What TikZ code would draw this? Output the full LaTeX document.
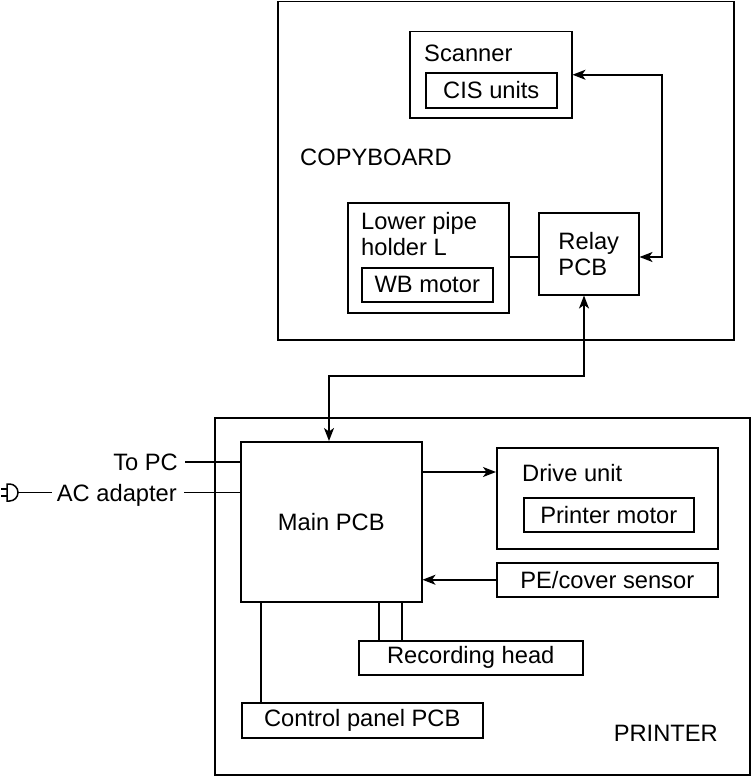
\documentclass[tikz,border=0pt]{standalone}
\usepackage{fontspec}
\setmainfont{Liberation Sans}
\usetikzlibrary{arrows.meta}
\begin{document}
\begin{tikzpicture}[x=1pt,y=-1pt,
  box/.style={draw, line width=1.5pt, inner sep=0pt, anchor=north west,
              font=\fontsize{23.7}{26}\selectfont},
  txt/.style={inner sep=0pt, font=\fontsize{23.7}{26}\selectfont},
  conn/.style={line width=1.5pt},
  tip/.tip={Stealth[length=13pt,width=10pt,inset=3.5pt]},
  arr/.style={line width=1.5pt, -tip},
  darr/.style={line width=1.5pt, tip-tip},
]
\useasboundingbox (0,0) rectangle (751,776);

% COPYBOARD
\node[box, minimum width=456pt, minimum height=338pt] (copy) at (277,1) {};
\node[box, minimum width=162pt, minimum height=86pt] (scan) at (409,31) {};
\node[box, minimum width=131pt, minimum height=35pt] (cis) at (425,72) {CIS units};
\node[txt, anchor=west] (scanl) at (424,53) {Scanner};
\node[txt, anchor=west] (copyl) at (300,157) {COPYBOARD};
\node[box, minimum width=161pt, minimum height=110pt] (lower) at (347,202) {};
\node[txt, anchor=west, align=left] (lowerl) at (361,234) {Lower pipe\\holder L};
\node[box, minimum width=131pt, minimum height=34pt] (wb) at (361,267) {WB motor};
\node[box, minimum width=100pt, minimum height=82pt, align=left] (relay) at (538,212) {Relay\\PCB};

% PRINTER
\node[box, minimum width=535pt, minimum height=357pt] (printer) at (214,417) {};
\node[box, minimum width=181pt, minimum height=160pt] (main) at (240,441) {Main PCB};
\node[box, minimum width=221pt, minimum height=101pt] (drive) at (496,447) {};
\node[txt, anchor=west] (drivel) at (522,473) {Drive unit};
\node[box, minimum width=170pt, minimum height=34pt] (pmot) at (523,497) {Printer motor};
\node[box, minimum width=221pt, minimum height=34pt] (pe) at (496,562) {PE/cover sensor};
\node[box, minimum width=224pt, minimum height=34pt] (rec) at (358,640) {Recording head};
\node[box, minimum width=241pt, minimum height=35pt] (ctrl) at (241,702) {Control panel PCB};
\node[txt, anchor=base east] (printerl) at (718,741) {PRINTER};

% external
\node[txt, anchor=base east] (topc) at (178,470) {To PC};
\node[txt, anchor=base east] (ac) at (177,501) {AC adapter};

% coordinates
\coordinate (lp) at (662,257);
\coordinate (rm1) at (584,376);
\coordinate (rm2) at (329,376);
\coordinate (dr) at (0,472);
\coordinate (r1) at (379,0);
\coordinate (r2) at (402,0);
\coordinate (c1) at (261,0);
\coordinate (pcy) at (0,462);
\coordinate (acy) at (0,492.5);
\coordinate (plug) at (18,492.5);

% connectors
\draw[darr] (scan.east) -| (lp) -- (relay.east |- lp);
\draw[conn] (lower.east |- lp) -- (relay.west |- lp);
\draw[darr] (rm1 |- relay.south) -- (rm1) -- (rm2) -- (rm2 |- main.north);
\draw[arr] (main.east |- dr) -- (drive.west |- dr);
\draw[arr] (pe.west) -- (pe.west -| main.east);
\draw[conn] (main.south -| r1) -- (rec.north -| r1);
\draw[conn] (main.south -| r2) -- (rec.north -| r2);
\draw[conn] (main.south -| c1) -- (ctrl.north -| c1);
\draw[conn] (topc.east |- pcy) ++(7,0) -- (main.west |- pcy);
\draw[conn] (ac.east |- acy) ++(7,0) -- (main.west |- acy);
\draw[conn] (plug) -- ([xshift=-5pt]ac.west |- acy);

% plug symbol
\draw[conn] (7,484) -- (9.5,484) arc[start angle=-90, end angle=90, radius=8.5] -- (7,501) -- cycle;
\draw[conn] (1,489) -- (7,489);
\draw[conn] (1,496) -- (7,496);
\end{tikzpicture}
\end{document}
